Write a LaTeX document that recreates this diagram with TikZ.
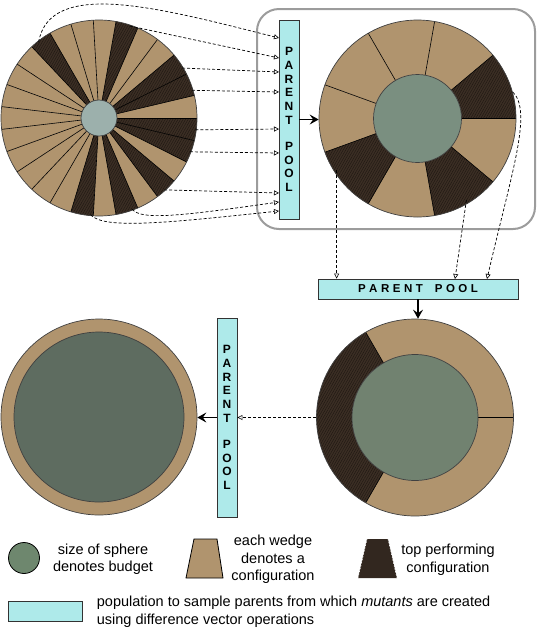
\documentclass[tikz,border=0pt]{standalone}
\usepackage{fontspec}
\setmainfont{Liberation Sans}
\usetikzlibrary{arrows.meta,patterns.meta,calc}
\definecolor{tanc}{HTML}{B0946E}
\definecolor{darkc}{HTML}{3B2E24}
\definecolor{cyanc}{HTML}{AEEAEA}
\definecolor{greenA}{HTML}{7A8F80}
\definecolor{greenB}{HTML}{718270}
\definecolor{greenC}{HTML}{5E6C60}
\definecolor{greenL}{HTML}{6E876E}
\definecolor{speck}{HTML}{9CB0AC}
\definecolor{framec}{HTML}{9C9C9C}
\newcommand\mysector[5]{\path[#5] (#1) -- ($(#1)+(#2:#4)$) arc[start angle=#2,end angle=#3,radius=#4] -- cycle;}
\newcommand\myannulus[6]{\path[#6] ($(#1)+(#2:#4)$) arc[start angle=#2,end angle=#3,radius=#4] -- ($(#1)+(#3:#5)$) arc[start angle=#3,end angle=#2,radius=#5] -- cycle;}
\newcommand\ls{\kern3.5pt}
\begin{document}
\begin{tikzpicture}[x=1pt,y=1pt,
  poolbox/.style={draw=black!80, line width=0.8pt, fill=cyanc, inner sep=0pt},
  vpool/.style={poolbox, minimum width=20pt, minimum height=199pt, align=center, font=\fontsize{12}{13.7}\selectfont\bfseries},
  hpool/.style={poolbox, minimum width=200pt, minimum height=20pt, font=\fontsize{11.5}{13.7}\selectfont\bfseries},
  disc/.style={circle, inner sep=0pt, minimum size=#1},
  rim/.style={draw=black!75, line width=0.7pt},
  darkfill/.style={fill=darkc},
  hatch/.style={pattern={Lines[angle=60,distance=2.2pt,line width=0.35pt]}, pattern color=black!55!darkc},
  wline/.style={line width=0.6pt, draw=black},
  dashconn/.style={line width=0.7pt, dash pattern=on 3pt off 2pt, -{Triangle[open,length=5pt,width=5pt,line width=0.6pt]}},
  thickconn/.style={line width=1.7pt, -{Stealth[length=9pt,width=10pt,inset=3.5pt]}},
  legtext/.style={font=\fontsize{14.5}{17.5}\selectfont, align=center, inner sep=0pt},
]
\useasboundingbox (0,0) rectangle (538,-630);

% ---------- top-left population (27 wedges) ----------
\coordinate (c1) at (99,-118);
\foreach \i in {0,...,26}{
  \pgfmathsetmacro\a{\i*360/27}\pgfmathsetmacro\b{(\i+1)*360/27}
  \mysector{c1}{\a}{\b}{98}{fill=tanc}
}
\foreach \i in {1,2,5,9,19,21,23,25,26}{
  \pgfmathsetmacro\a{\i*360/27}\pgfmathsetmacro\b{(\i+1)*360/27}
  \mysector{c1}{\a}{\b}{98}{darkfill}
  \mysector{c1}{\a}{\b}{98}{hatch}
}
\foreach \i in {0,...,26}{
  \pgfmathsetmacro\a{\i*360/27}
  \draw[wline] (c1) -- ($(c1)+(\a:98)$);
}
\node[disc=196pt, rim] (cir1) at (c1) {};
\node[disc=36pt, fill=speck, rim] (hub1) at (c1) {};

% ---------- frame ----------
\draw[framec, line width=2pt, rounded corners=22pt] (257,-9) rectangle (535,-229);

% ---------- top-right population (9 wedges) ----------
\coordinate (c2) at (417.5,-118.5);
\foreach \i in {0,...,8}{
  \pgfmathsetmacro\a{\i*40}\pgfmathsetmacro\b{(\i+1)*40}
  \myannulus{c2}{\a}{\b}{98.5}{44}{fill=tanc}
}
\foreach \i in {0,5,7}{
  \pgfmathsetmacro\a{\i*40}\pgfmathsetmacro\b{(\i+1)*40}
  \myannulus{c2}{\a}{\b}{98.5}{44}{darkfill}
  \myannulus{c2}{\a}{\b}{98.5}{44}{hatch}
}
\foreach \i in {0,...,8}{
  \pgfmathsetmacro\a{\i*40}
  \draw[wline] ($(c2)+(\a:44)$) -- ($(c2)+(\a:98.5)$);
}
\node[disc=197pt, rim] (cir2) at (c2) {};
\node[disc=88pt, fill=greenA, rim] (hub2) at (c2) {};

% ---------- bottom-right population (3 wedges) ----------
\coordinate (c3) at (415,-417.5);
\myannulus{c3}{0}{120}{98.5}{63}{fill=tanc}
\myannulus{c3}{240}{360}{98.5}{63}{fill=tanc}
\myannulus{c3}{120}{240}{98.5}{63}{darkfill}
\myannulus{c3}{120}{240}{98.5}{63}{hatch}
\foreach \a in {0,120,240}{
  \draw[wline] ($(c3)+(\a:63)$) -- ($(c3)+(\a:98.5)$);
}
\node[disc=197pt, rim] (cir3) at (c3) {};
\node[disc=126pt, fill=greenB, rim] (hub3) at (c3) {};

% ---------- bottom-left (final) ----------
\node[disc=196pt, fill=tanc, rim] (cir4) at (99,-417) {};
\node[disc=170pt, fill=greenC, rim] (hub4) at (99,-417) {};

% ---------- parent pools ----------
\node[vpool] (pp1) at (289,-119.5) {P\\A\\R\\E\\N\\T\\[12.5pt]P\\O\\O\\L};
\node[hpool] (pp2) at (418,-289) {P\ls A\ls R\ls E\ls N\ls T\kern12pt P\ls O\ls O\ls L};
\node[vpool] (pp3) at (227,-417.5) {P\\A\\R\\E\\N\\T\\[12.5pt]P\\O\\O\\L};

% ---------- connectors: top-left -> pool 1 ----------
\coordinate (s1) at ($(c1)+(128.5:97)$);
\coordinate (s2) at ($(c1)+(71.6:97)$);
\coordinate (s3) at ($(c1)+(31:97)$);
\coordinate (s4) at ($(c1)+(16.6:97)$);
\coordinate (s5) at ($(c1)+(-7:97)$);
\coordinate (s6) at ($(c1)+(-20.4:97)$);
\coordinate (s7) at ($(c1)+(-47.8:97)$);
\coordinate (s8) at ($(c1)+(-70:97)$);
\coordinate (s9) at ($(c1)+(-95:97)$);
\coordinate (t1) at (279,-38);
\coordinate (t2) at (279,-58);
\coordinate (t3) at (279,-72);
\coordinate (t4) at (279,-92);
\coordinate (t5) at (279,-129);
\coordinate (t6) at (279,-153);
\coordinate (t7) at (279,-193);
\coordinate (t8) at (279,-202);
\coordinate (t9) at (279,-211);
\draw[dashconn] (s1) .. controls (50,22) and (160,-8) .. (t1);
\draw[dashconn] (s2) -- (t2);
\draw[dashconn] (s3) -- (t3);
\draw[dashconn] (s4) -- (t4);
\draw[dashconn] (s5) -- (t5);
\draw[dashconn] (s6) -- (t6);
\draw[dashconn] (s7) -- (t7);
\draw[dashconn] (s8) .. controls +(-55:15) and +(188:90) .. (t8);
\draw[dashconn] (s9) .. controls +(-50:20) and +(186:110) .. (t9);

\draw[thickconn] (pp1.east) -- (pp1.east -| cir2.west);

% ---------- connectors: top-right -> pool 2 ----------
\coordinate (s10) at ($(c2)+(212.6:96)$);
\coordinate (s11) at ($(c2)+(-59:95)$);
\coordinate (s12) at ($(c2)+(15.5:99)$);
\coordinate (t11) at (455,-279);
\coordinate (t12) at (487,-279);
\draw[dashconn] (s10) -- (s10 |- pp2.north);
\draw[dashconn] (s11) -- (t11);
\draw[dashconn] (s12) .. controls +(-45:28) and +(77:110) .. (t12);

\draw[thickconn] (pp2.south) -- (pp2.south |- cir3.north);
\draw[dashconn] (cir3.west) -- (cir3.west -| pp3.east);
\draw[thickconn] (pp3.west) -- (pp3.west -| cir4.east);

% ---------- legend ----------
\node[disc=31pt, fill=greenL, draw=black, line width=0.8pt] (lg1) at (24,-558) {};
\node[legtext] (lt1) at (103,-559) {size of sphere\\denotes budget};
\draw[fill=tanc, draw=black, line width=0.8pt] (186,-578) -- (223,-578) -- (217,-539) -- (194,-539) -- cycle;
\node[legtext] (lt2) at (273,-559.5) {each wedge\\denotes a\\configuration};
\fill[darkc!85!black] (358,-578) -- (397,-578) -- (388,-539) -- (367,-539) -- cycle;
\draw[white, line width=0.6pt, dash pattern=on 1.5pt off 1.5pt] (358,-578) -- (367,-539) (388,-539) -- (397,-578);
\node[legtext] (lt3) at (448,-559.5) {top performing\\configuration};
\node[poolbox, minimum width=74pt, minimum height=20pt] (lg4) at (45,-611) {};
\node[legtext, align=left, anchor=west] (lt4) at (96.7,-611.5) {population to sample parents from which \textit{mutants} are created\\using difference vector operations};
\end{tikzpicture}
\end{document}
